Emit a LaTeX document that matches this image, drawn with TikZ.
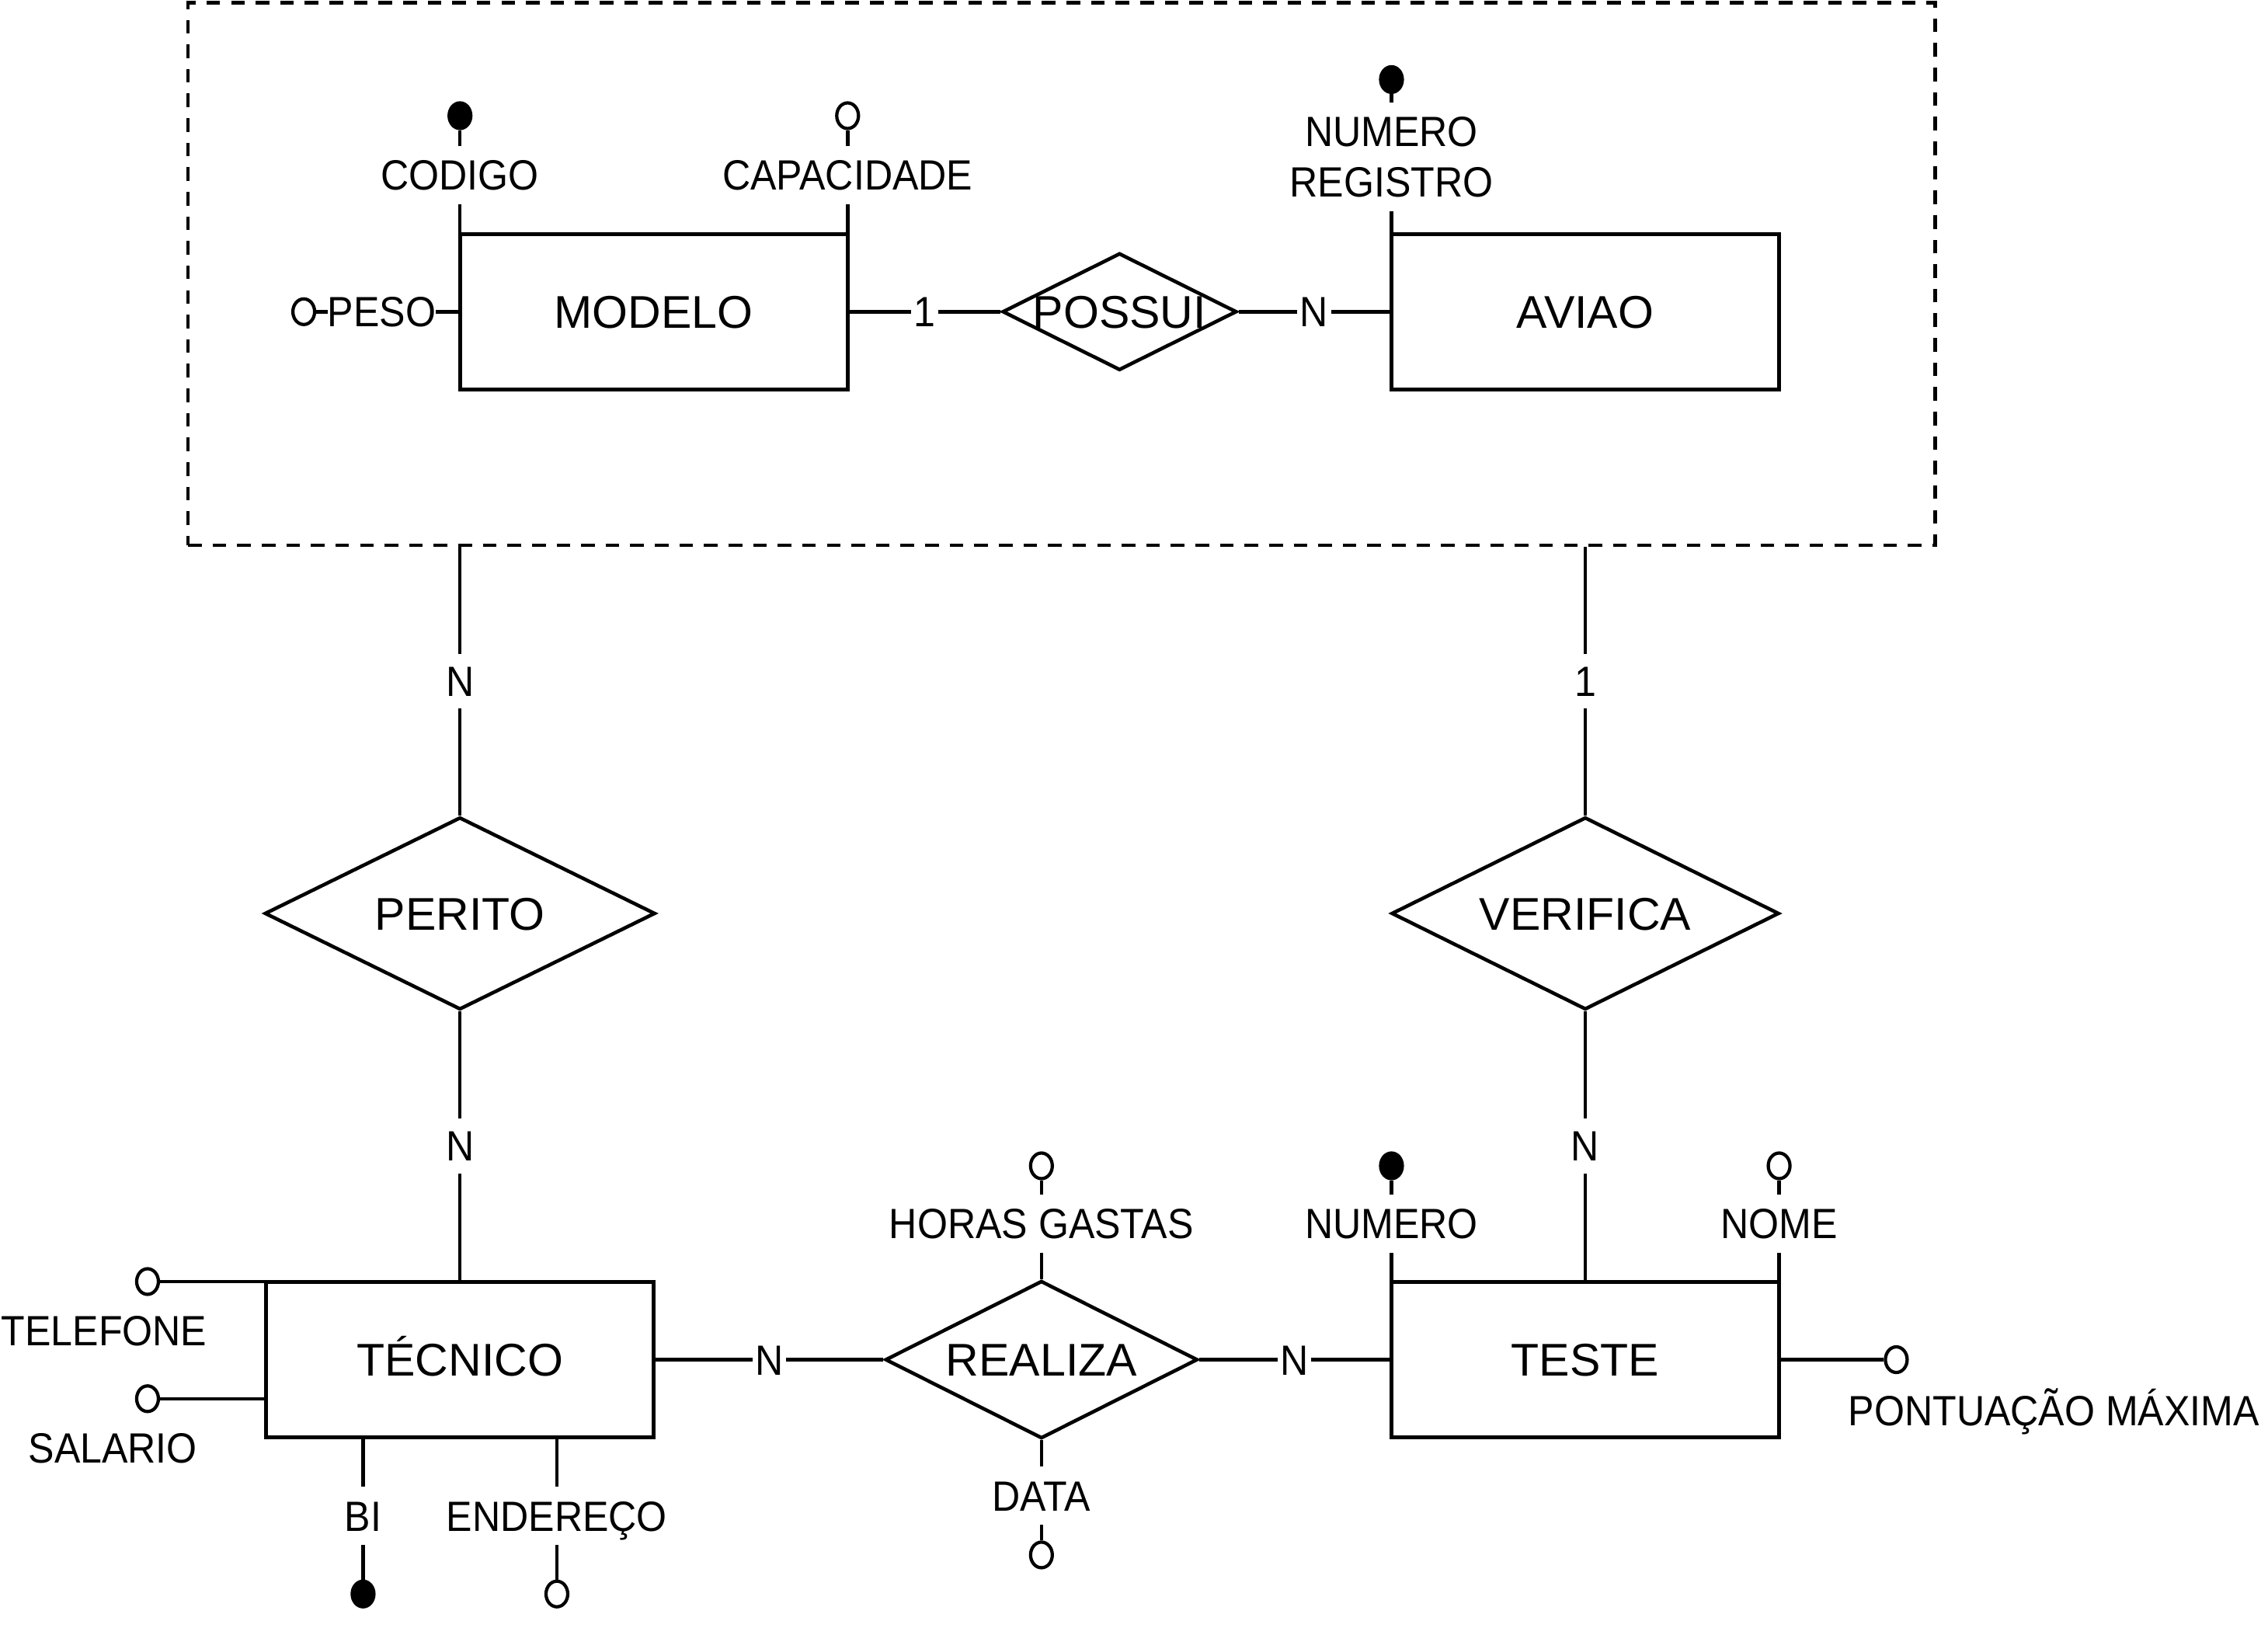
\documentclass[tikz,border=0pt]{standalone}
\usepackage{fontspec}
\setmainfont{Liberation Sans}
\newfontfamily\attrfont[FakeStretch=0.92]{Liberation Sans}
\usetikzlibrary{shapes.geometric}
\begin{document}
\begin{tikzpicture}[x=0.18622mm,y=-0.18622mm, line width=1.3pt,
 ent/.style={draw, rectangle, minimum width=49.9mm, minimum height=20mm, inner sep=0pt, font=\fontsize{16.8}{18}\selectfont, text height=12pt, text depth=0pt},
 rel/.style={draw, diamond, inner sep=0pt},
 rtxt/.style={font=\fontsize{16.8}{18}\selectfont, inner sep=0pt, text height=12pt, text depth=0pt},
 attr/.style={font=\attrfont\fontsize{15.5}{17}\selectfont, text height=11.1pt, text depth=0pt, inner xsep=1pt, inner ysep=4.5pt},
 attr2/.style={font=\attrfont\fontsize{15.5}{18.5}\selectfont, align=center, inner xsep=1pt, inner ysep=4.5pt},
 elbl/.style={fill=white, font=\attrfont\fontsize{15.5}{17}\selectfont, text height=11.1pt, text depth=0pt, inner xsep=1pt, inner ysep=4.5pt},
 opn/.style={draw, ellipse, fill=white, minimum width=2.8mm, minimum height=3.3mm, inner sep=0pt, line width=1.2pt},
 fld/.style={opn, fill=black},
]
\useasboundingbox (0,0) rectangle (1568,1125);

% aggregation box
\node[draw, dash pattern=on 5pt off 4pt, minimum width=224.95mm, minimum height=69.83mm, inner sep=0pt] (agg) at (734,189.5) {};

% entities
\node[ent] (modelo) at (452,215.5) {MODELO};
\node[ent] (aviao) at (1096,215.5) {AVIAO};
\node[ent] (tecnico) at (318,940) {TÉCNICO};
\node[ent] (teste) at (1096,940) {TESTE};

% relationships
\node[rel, minimum width=30.17mm, minimum height=15.08mm] (possui) at (774,215.5) {};
\node[rtxt] (possuiT) at (possui) {POSSUI};
\node[rel, minimum width=50.28mm, minimum height=24.77mm] (perito) at (318,631.5) {};
\node[rtxt] (peritoT) at (perito) {PERITO};
\node[rel, minimum width=49.9mm, minimum height=24.77mm] (verifica) at (1096,631.5) {};
\node[rtxt] (verificaT) at (verifica) {VERIFICA};
\node[rel, minimum width=40.22mm, minimum height=20.3mm] (realiza) at (720,940) {};
\node[rtxt] (realizaT) at (realiza) {REALIZA};

% connectors
\draw (modelo.east) -- node[elbl] (e1) {1} (possui.west);
\draw (possui.east) -- node[elbl] (e2) {N} (aviao.west);
\draw (perito.north |- agg.south) -- node[elbl] (e3) {N} (perito.north);
\draw (perito.south) -- node[elbl] (e4) {N} (tecnico.north);
\draw (verifica.north |- agg.south) -- node[elbl] (e5) {1} (verifica.north);
\draw (verifica.south) -- node[elbl] (e6) {N} (teste.north);
\draw (tecnico.east) -- node[elbl] (e7) {N} (realiza.west);
\draw (realiza.east) -- node[elbl] (e8) {N} (teste.west);

% MODELO attributes
\node[fld] (codigoC) at (318,80) {};
\node[attr] (codigo) at (318,121) {CODIGO};
\draw (codigoC) -- (codigo);
\draw (codigo) -- (codigo |- modelo.north);

\node[opn] (capC) at (586,80) {};
\node[attr] (cap) at (586,121) {CAPACIDADE};
\draw (capC) -- (cap);
\draw (cap) -- (cap |- modelo.north);

\node[opn] (pesoC) at (210,215.5) {};
\draw (pesoC) -- (modelo.west);
\node[attr, fill=white, inner xsep=0pt] (peso) at (264,215.5) {PESO};

% AVIAO attribute
\node[fld] (numregC) at (962,55) {};
\node[attr2] (numreg) at (962,108.5) {NUMERO\\REGISTRO};
\draw (numregC) -- (numreg);
\draw (numreg) -- (numreg |- aviao.north);

% REALIZA attributes
\node[opn] (horasC) at (720,806) {};
\node[attr] (horas) at (720,846) {HORAS GASTAS};
\draw (horasC) -- (horas);
\draw (horas) -- (realiza.north);

\node[attr] (data) at (720,1034) {DATA};
\node[opn] (dataC) at (720,1075) {};
\draw (realiza.south) -- (data);
\draw (data) -- (dataC);

% TESTE attributes
\node[fld] (numeroC) at (962,806) {};
\node[attr] (numero) at (962,846) {NUMERO};
\draw (numeroC) -- (numero);
\draw (numero) -- (numero |- teste.north);

\node[opn] (nomeC) at (1230,806) {};
\node[attr] (nome) at (1230,846) {NOME};
\draw (nomeC) -- (nome);
\draw (nome) -- (nome |- teste.north);

\node[opn] (pontC) at (1311,940) {};
\draw (teste.east) -- (pontC);
\node[attr] (pont) at (1420,975) {PONTUAÇÃO MÁXIMA};

% TECNICO attributes
\node[opn] (telC) at (102,886) {};
\draw (telC) -- (telC -| tecnico.west);
\node[attr] (tel) at (72,920) {TELEFONE};

\node[opn] (salC) at (102,967) {};
\draw (salC) -- (salC -| tecnico.west);
\node[attr] (sal) at (78,1001) {SALARIO};

\node[attr] (bi) at (251,1048) {BI};
\node[fld] (biC) at (251,1102) {};
\draw (bi |- tecnico.south) -- (bi);
\draw (bi) -- (biC);

\node[attr] (end) at (385,1048) {ENDEREÇO};
\node[opn] (endC) at (385,1102) {};
\draw (end |- tecnico.south) -- (end);
\draw (end) -- (endC);
\end{tikzpicture}
\end{document}
